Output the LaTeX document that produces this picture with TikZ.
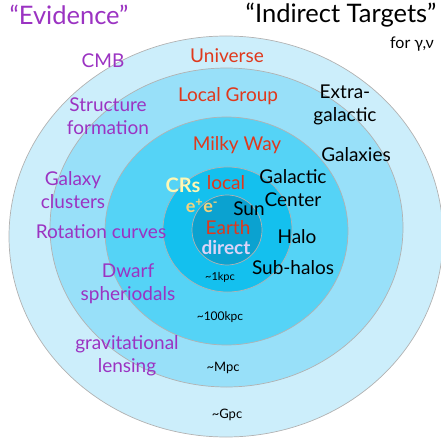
\documentclass[tikz,border=0pt]{standalone}
\usepackage{fontspec}
\setmainfont{Lato}
\usepackage{tikz}

\definecolor{gpcblue}{HTML}{CCEEFB}
\definecolor{mpcblue}{HTML}{98E0F9}
\definecolor{mwblue}{HTML}{55D3F6}
\definecolor{kpcblue}{HTML}{14C0EE}
\definecolor{earthblue}{HTML}{0BA2D0}
\definecolor{evidpurple}{HTML}{9B33C2}
\definecolor{placered}{HTML}{E0381C}
\definecolor{crsyellow}{HTML}{FFF8B4}
\definecolor{eeorange}{HTML}{F6D27C}
\definecolor{directlilac}{HTML}{DCD4F8}

\begin{document}
\begin{tikzpicture}[x=1pt,y=-1pt,
	ring/.style={draw=black!30,line width=0.7pt},
	evidnode/.style={text=evidpurple,align=center,inner sep=0pt,font=\fontsize{19}{23}\selectfont},
	targetnode/.style={text=black,align=center,inner sep=0pt,font=\fontsize{19}{23}\selectfont},
	placenode/.style={text=placered,inner sep=0pt,font=\fontsize{19}{23}\selectfont},
	sizenode/.style={text=black,inner sep=0pt,font=\fontsize{12}{14}\selectfont},
	headnode/.style={inner sep=0pt,font=\fontsize{25.5}{28}\selectfont}]
	\useasboundingbox (0,0) rectangle (441,438);
	% nested scales, biggest first
	\draw[ring,fill=gpcblue] (226,236.5) ellipse [x radius=217pt,y radius=200.5pt];
	\draw[ring,fill=mpcblue] (226.5,227.5) ellipse [x radius=176.5pt,y radius=159.5pt];
	\draw[ring,fill=mwblue] (226.5,231) ellipse [x radius=121.5pt,y radius=114pt];
	\draw[ring,fill=kpcblue] (227.5,229.5) ellipse [x radius=64.5pt,y radius=62.5pt];
	\draw[ring,fill=earthblue] (227,230) circle [radius=35pt];
	% headings
	\node [headnode,text=evidpurple] (evid) at (69,15) {``Evidence''};
	\node [headnode] (indir) at (341,15) {``Indirect Targets''};
	\node [sizenode,font=\fontsize{16}{18}\selectfont,anchor=east] (gnu) at (434,44) {for γ,ν};
	% evidence side
	\node [evidnode] (cmb) at (103,61) {CMB};
	\node [evidnode] (struct) at (108,116.5) {Structure\\formation};
	\node [evidnode] (clust) at (73,190) {Galaxy\\clusters};
	\node [evidnode] (rot) at (101,232) {Rotation curves};
	\node [evidnode] (dwarf) at (128,283.5) {Dwarf\\spheriodals};
	\node [evidnode] (lens) at (127,355.5) {gravitational\\lensing};
	% places
	\node [placenode] (univ) at (227,56) {Universe};
	\node [placenode] (lg) at (228,96) {Local Group};
	\node [placenode] (mw) at (237,145) {Milky Way};
	\node [placenode] (loc) at (226,183) {local};
	\node [placenode] (earth) at (228,227.5) {Earth};
	% indirect targets
	\node [targetnode] (extra) at (345,105) {Extra-\\galactic};
	\node [targetnode] (gals) at (356,155) {Galaxies};
	\node [targetnode] (gc) at (293,188.5) {Galactic\\Center};
	\node [targetnode] (sun) at (249,208.5) {Sun};
	\node [targetnode] (halo) at (297,237) {Halo};
	\node [targetnode] (sub) at (293,268) {Sub-halos};
	% direct and cosmic rays
	\node [inner sep=0pt,text=crsyellow,font=\fontsize{20}{22}\selectfont\bfseries] (crs) at (183,185) {CRs};
	\node [inner sep=0pt,text=eeorange,font=\fontsize{18}{20}\selectfont\bfseries] (ee) at (202,206) {e\textsuperscript{+}e\textsuperscript{-}};
	\node [inner sep=0pt,text=directlilac,font=\fontsize{19}{22}\selectfont\bfseries] (dir) at (226,247.5) {direct};
	% sizes
	\node [sizenode,font=\fontsize{11}{13}\selectfont] (kpc) at (220,277) {\textasciitilde 1kpc};
	\node [sizenode] (hkpc) at (220,317) {\textasciitilde 100kpc};
	\node [sizenode,font=\fontsize{13}{15}\selectfont] (mpc) at (223,368) {\textasciitilde Mpc};
	\node [sizenode,font=\fontsize{13}{15}\selectfont] (gpc) at (227,415) {\textasciitilde Gpc};
\end{tikzpicture}
\end{document}
